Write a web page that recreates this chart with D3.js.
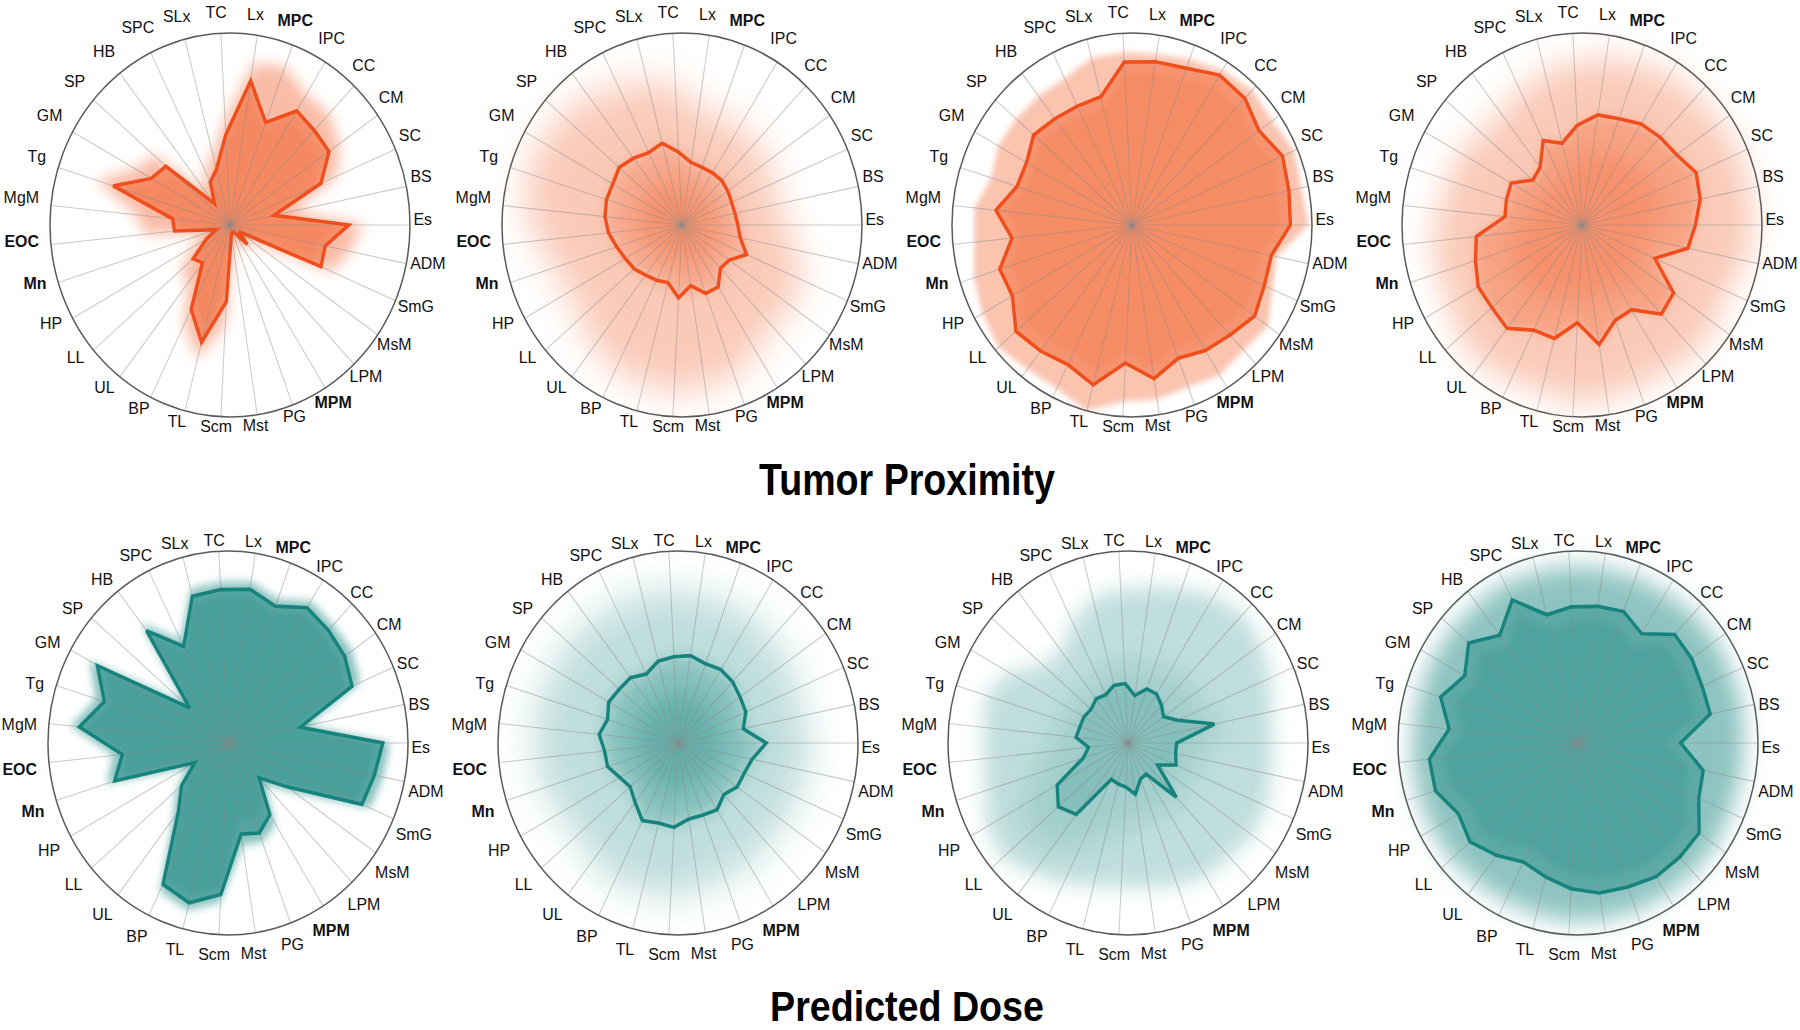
<!DOCTYPE html>
<html><head><meta charset="utf-8">
<script src="https://cdn.jsdelivr.net/npm/d3@7"></script>
<style>
html,body{margin:0;padding:0;background:#fff;}
text{font-family:"Liberation Sans",Arial,Helvetica,sans-serif;}
</style></head>
<body><svg id="chart" width="1800" height="1030"></svg>
<script>
// ---- data ----
const axes = ["TC","Lx","MPC","IPC","CC","CM","SC","BS","Es","ADM","SmG","MsM","LPM","MPM","PG","Mst","Scm","TL","BP","UL","LL","HP","Mn","EOC","MgM","Tg","GM","SP","HB","SPC","SLx"];
const boldAxes = ["MPC","MPM","EOC","Mn"];
const rowTitles = ["Tumor Proximity","Predicted Dose"];

// Tumor proximity (orange)
const tp1Med = [.47,.76,.57,.70,.68,.67,.55,.25,.66,.54,.55,.06,.14,.05,.04,.05,.40,.63,.49,.25,.27,.15,.08,.31,.32,.68,.50,.47,.14,.25,.30];
const tp1Hi  = [.55,.85,.88,.80,.80,.74,.65,.36,.74,.68,.62,.12,.20,.10,.10,.12,.52,.72,.58,.38,.36,.24,.15,.48,.52,.78,.60,.56,.22,.32,.38];
const tp1Lo  = [.42,.70,.52,.64,.62,.60,.50,.22,.60,.49,.50,.05,.12,.04,.04,.04,.36,.58,.44,.22,.24,.13,.07,.28,.29,.62,.45,.42,.12,.22,.27];

const tp2Med = [.38,.33,.32,.32,.32,.31,.30,.30,.31,.33,.39,.32,.31,.38,.38,.32,.38,.31,.32,.33,.35,.36,.38,.41,.43,.44,.44,.46,.44,.42,.44];
const tp2Hi  = [.72,.62,.60,.60,.60,.58,.55,.55,.58,.65,.72,.75,.72,.78,.85,.85,.88,.85,.85,.80,.75,.72,.75,.80,.88,.90,.90,.88,.85,.80,.78];
const tp2Lo  = [.22,.20,.20,.20,.20,.19,.18,.18,.19,.20,.24,.20,.19,.23,.23,.20,.23,.19,.20,.20,.21,.22,.23,.25,.26,.27,.27,.28,.27,.25,.27];

const tp3Med = [.85,.86,.87,.92,.91,.86,.91,.89,.88,.79,.80,.83,.79,.77,.74,.81,.72,.86,.81,.83,.85,.76,.77,.67,.76,.67,.67,.72,.70,.69,.69];
const tp3Hi  = [.90,.90,.92,.95,.97,.95,.98,.96,.98,.82,.85,.92,.90,.92,.90,.92,.92,1.0,.95,.95,.98,.95,.92,.88,.88,.82,.85,.85,.85,.85,.90];
const tp3Lo  = [.78,.80,.80,.85,.85,.80,.85,.82,.82,.72,.74,.76,.72,.70,.68,.74,.66,.78,.74,.76,.78,.70,.70,.62,.70,.62,.62,.66,.64,.63,.63];

const tp4Med = [.52,.58,.59,.62,.63,.64,.69,.67,.63,.60,.44,.62,.64,.52,.53,.63,.51,.61,.61,.68,.66,.66,.62,.59,.43,.44,.45,.36,.38,.49,.44];
const tp4Hi  = [.85,.88,.90,.92,.93,.93,.95,.95,.95,.93,.88,.90,.92,.90,.90,.92,.92,.90,.90,.92,.90,.85,.84,.84,.80,.78,.78,.74,.74,.78,.82];
const tp4Lo  = [.35,.40,.40,.42,.43,.44,.47,.46,.43,.41,.30,.42,.44,.36,.36,.43,.35,.42,.42,.46,.45,.45,.42,.40,.30,.30,.31,.25,.26,.33,.30];

// Predicted dose (teal)
const pd1Med = [.80,.81,.76,.83,.81,.79,.75,.41,.86,.83,.81,.40,.25,.44,.50,.48,.79,.86,.82,.45,.34,.21,.66,.59,.83,.72,.83,.28,.74,.56,.79];
const pd1Hi  = [.84,.85,.80,.87,.85,.84,.80,.45,.90,.88,.86,.45,.30,.50,.55,.54,.83,.90,.86,.50,.38,.26,.71,.64,.88,.77,.88,.32,.79,.60,.83];
const pd1Lo  = [.76,.77,.72,.79,.77,.75,.71,.38,.82,.79,.77,.36,.22,.36,.42,.40,.75,.82,.78,.41,.30,.18,.62,.55,.79,.68,.79,.25,.70,.52,.75];

const pd2Med = [.45,.46,.44,.45,.44,.42,.41,.37,.49,.42,.40,.40,.37,.41,.40,.40,.44,.43,.45,.39,.35,.37,.41,.41,.44,.41,.44,.43,.43,.40,.44];
const pd2Hi  = [.80,.78,.78,.78,.75,.75,.72,.70,.75,.72,.72,.72,.72,.75,.75,.78,.80,.80,.80,.78,.75,.75,.78,.80,.80,.80,.80,.80,.80,.80,.80];
const pd2Lo  = [.28,.28,.27,.28,.27,.26,.25,.23,.30,.26,.25,.25,.23,.25,.25,.25,.27,.27,.28,.24,.22,.23,.25,.25,.27,.25,.27,.26,.26,.25,.27];

const pd3Med = [.31,.25,.30,.30,.27,.24,.30,.49,.27,.27,.29,.20,.39,.19,.20,.27,.23,.22,.21,.47,.51,.45,.26,.22,.29,.28,.28,.27,.29,.28,.31];
const pd3Hi  = [.80,.82,.86,.90,.93,.90,.86,.81,.80,.81,.84,.84,.82,.82,.79,.76,.75,.77,.81,.86,.92,.90,.83,.80,.80,.83,.76,.62,.60,.70,.78];
const pd3Lo  = [.42,.40,.42,.45,.45,.45,.45,.55,.45,.42,.40,.35,.45,.40,.40,.42,.45,.50,.60,.70,.72,.68,.55,.45,.42,.40,.38,.35,.38,.40,.42];

const pd4Med = [.71,.72,.73,.67,.78,.77,.75,.75,.57,.71,.73,.82,.82,.82,.80,.79,.76,.72,.69,.74,.79,.76,.83,.83,.72,.80,.72,.80,.71,.83,.69];
const pd4Hi  = [.92,.92,.92,.92,.93,.93,.93,.93,.92,.92,.92,.93,.93,.93,.93,.93,.93,.92,.92,.92,.93,.93,.93,.93,.92,.92,.92,.92,.92,.93,.92];
const pd4Lo  = [.63,.64,.65,.59,.70,.69,.67,.67,.49,.63,.65,.74,.74,.74,.72,.71,.68,.64,.61,.66,.71,.68,.75,.75,.64,.72,.64,.72,.63,.75,.61];

// ---- layout / style ----
const ORANGE = {fill:"#F26B3A", line:"#F04E1C"};
const TEAL   = {fill:"#2E918C", line:"#17837D"};
const R = 192, SX = 0.9375;
const panels = [
  {cx:230, cy:225, ldy:-6,  col:ORANGE, med:tp1Med, hi:tp1Hi, lo:tp1Lo, st:{hiA:.45,hiB:7, loA:.2,loB:2, medA:.55,medB:0}},
  {cx:682, cy:225, ldy:-6,  col:ORANGE, med:tp2Med, hi:tp2Hi, lo:tp2Lo, st:{hiA:.36,hiB:18,loA:.42,loB:14,medA:.32,medB:8}},
  {cx:1132,cy:225, ldy:-6,  col:ORANGE, med:tp3Med, hi:tp3Hi, lo:tp3Lo, st:{hiA:.4,hiB:3, loA:.2,loB:2, medA:.54,medB:0}},
  {cx:1582,cy:225, ldy:-6,  col:ORANGE, med:tp4Med, hi:tp4Hi, lo:tp4Lo, st:{hiA:.36,hiB:16, loA:.35,loB:14,medA:.4,medB:5}},
  {cx:228, cy:743, ldy:3.5, col:TEAL,   med:pd1Med, hi:pd1Hi, lo:pd1Lo, st:{hiA:.55,hiB:4, loA:.3,loB:2, medA:.6,medB:0}},
  {cx:678, cy:743, ldy:3.5, col:TEAL,   med:pd2Med, hi:pd2Hi, lo:pd2Lo, st:{hiA:.3,hiB:18, loA:.42,loB:14,medA:.35,medB:8}},
  {cx:1128,cy:743, ldy:3.5, col:TEAL,   med:pd3Med, hi:pd3Hi, lo:pd3Lo, st:{hiA:.3,hiB:10,loA:.2,loB:14,medA:.25,medB:2}},
  {cx:1578,cy:743, ldy:3.5, col:TEAL,   med:pd4Med, hi:pd4Hi, lo:pd4Lo, st:{hiA:.55,hiB:12,loA:.3,loB:4, medA:.5,medB:0}}
];

const svg = d3.select("#chart");
const defs = svg.append("defs");
const blurSet = new Set();
panels.forEach(p => [p.st.hiB,p.st.loB,p.st.medB].forEach(b => { if (b>0) blurSet.add(b); }));
blurSet.forEach(b => {
  defs.append("filter").attr("id","blur"+b).attr("x","-50%").attr("y","-50%").attr("width","200%").attr("height","200%")
    .append("feGaussianBlur").attr("stdDeviation", b);
});

const n = axes.length;
const angle = d3.scaleLinear().domain([0, n]).range([0, 2*Math.PI]);
const ang = i => angle(i - 0.25);
const rScale = d3.scaleLinear().domain([0,1]).range([0,R]);
const radial = d3.lineRadial().angle((d,i)=>ang(i)).radius(d=>rScale(d)).curve(d3.curveLinearClosed);

panels.forEach(p => {
  const g = svg.append("g").attr("transform", `translate(${p.cx},${p.cy}) scale(${SX},1)`);
  const layer = (data, a, b) => {
    if (a <= 0) return;
    const path = g.append("path").attr("d", radial(data)).attr("fill", p.col.fill).attr("fill-opacity", a).attr("stroke","none");
    if (b > 0) path.attr("filter", `url(#blur${b})`);
  };
  layer(p.hi, p.st.hiA, p.st.hiB);
  layer(p.lo, p.st.loA, p.st.loB);
  layer(p.med, p.st.medA, p.st.medB);

  // spokes
  g.selectAll(".spoke").data(axes).enter().append("line")
    .attr("x1",0).attr("y1",0)
    .attr("x2",(d,i)=>rScale(1)*Math.sin(ang(i)))
    .attr("y2",(d,i)=>-rScale(1)*Math.cos(ang(i)))
    .attr("stroke","#8a8a8a").attr("stroke-opacity",0.45).attr("stroke-width",1.1);

  // median line
  g.append("path").attr("d", radial(p.med)).attr("fill","none")
    .attr("stroke", p.col.line).attr("stroke-width",3.6).attr("stroke-linejoin","miter").attr("stroke-miterlimit",3);

  // outer circle
  g.append("circle").attr("r", rScale(1)).attr("fill","none").attr("stroke","#5a5a5a").attr("stroke-width",1.6);

  // labels
  const labels = g.selectAll(".lab").data(axes).enter().append("text")
    .attr("font-size", 17)
    .attr("font-weight", d => boldAxes.includes(d) ? "bold" : "normal")
    .attr("fill","#111")
    .attr("text-anchor","middle").attr("dominant-baseline","central")
    .text(d=>d);
  labels.each(function(d,i){
    const w = this.getComputedTextLength()/2;
    const a = ang(i);
    const off = rScale(1) + 8 + w*Math.abs(Math.sin(a)) + 6.5*Math.abs(Math.cos(a));
    d3.select(this).attr("x", off*Math.sin(a) - 4/SX).attr("y", -off*Math.cos(a) + p.ldy);
  });
});

// row titles
const titlePos = [{x:907, y:495, w:296, fs:44}, {x:907, y:1021, w:274, fs:43}];
rowTitles.forEach((t,i) => {
  const tg = svg.append("g").attr("transform", `translate(${titlePos[i].x},${titlePos[i].y})`);
  const tx = tg.append("text").attr("text-anchor","middle").attr("font-size",titlePos[i].fs).attr("font-weight","bold").attr("fill","#000").text(t);
  const w = tx.node().getComputedTextLength();
  tx.attr("transform", `scale(${titlePos[i].w / w},1)`);
});
</script></body></html>
